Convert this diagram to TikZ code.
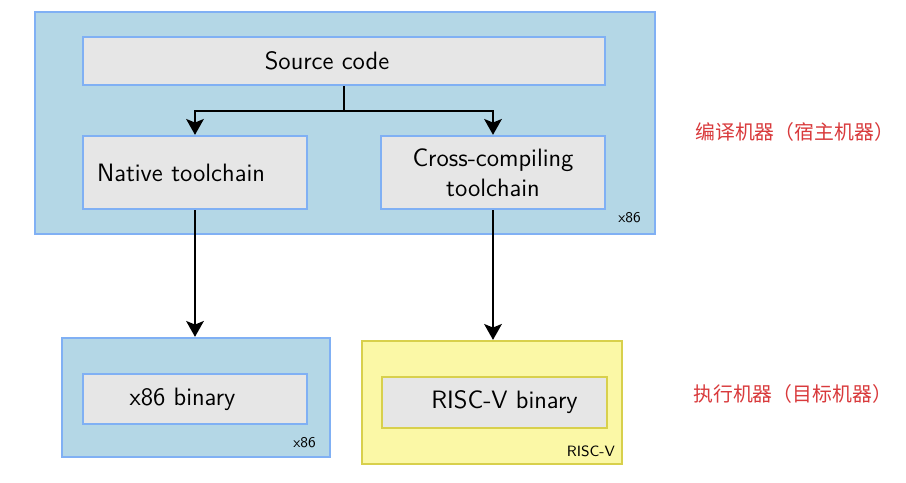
\documentclass[tikz,border=0pt]{standalone}
\usepackage{fontspec}
\newfontfamily\cjk{Noto Sans CJK SC}
\usetikzlibrary{arrows.meta,positioning}
\definecolor{hostfill}{HTML}{B4D7E6}
\definecolor{hostline}{HTML}{80B0F4}
\definecolor{boxfill}{HTML}{E6E6E6}
\definecolor{rvfill}{HTML}{FBF8A6}
\definecolor{rvline}{HTML}{D8D04C}
\definecolor{notered}{HTML}{D93A3C}
\newcommand{\padr}[1]{\rule{#1}{0pt}}
\tikzset{
  machine/.style={draw=hostline, fill=hostfill, line width=1.3pt, inner sep=0pt},
  item/.style={draw=hostline, fill=boxfill, line width=1.3pt, inner sep=0pt,
    font=\sffamily\fontsize{14.3}{17}\selectfont},
  tag/.style={font=\sffamily\fontsize{8.5}{10}\selectfont, inner sep=0pt},
  flow/.style={line width=1.4pt, -{Stealth[length=9pt,width=10pt,inset=2pt]}},
  note/.style={text=notered, font=\cjk\fontsize{11.3}{13}\selectfont, inner sep=0pt, anchor=west}
}
\begin{document}
\begin{tikzpicture}[x=0.02cm, y=-0.02cm]
\useasboundingbox[fill=white] (0,0) rectangle (906,483);

% Host machine
\node[machine, minimum width=12.4cm, minimum height=4.44cm] (host) at (345,123) {};
\node[item, minimum width=10.44cm, minimum height=0.96cm] (src) at (344,61) {Source code\padr{0.68cm}};
\node[item, minimum width=4.48cm, minimum height=1.46cm, text width=3.92cm,
  inner xsep=0.28cm, align=left] (native) at (195,172.5) {Native toolchain};
\node[item, minimum width=4.48cm, minimum height=1.46cm, align=center] (cross) at (493,172.5)
  {Cross-compiling\\toolchain};
\node[tag, anchor=south east] (hosttag) at ([shift={(-15,-12)}]host.south east) {x86};

% Target machines
\node[machine, minimum width=5.36cm, minimum height=2.38cm] (x86m) at (196,397.5) {};
\node[item, minimum width=4.48cm, minimum height=1.0cm] (x86bin) at (195,399) {x86 binary\padr{0.5cm}};
\node[tag, anchor=south east] (x86tag) at ([shift={(-15,-10)}]x86m.south east) {x86};

\node[machine, draw=rvline, fill=rvfill, minimum width=5.2cm, minimum height=2.46cm] (rvm) at (492,402.5) {};
\node[item, draw=rvline, minimum width=4.5cm, minimum height=1.02cm] (rvbin) at (494.5,402.5) {\padr{0.4cm}RISC-V binary};
\node[tag, anchor=south east] (rvtag) at ([shift={(-8,-8)}]rvm.south east) {RISC-V};

% Arrows
\draw[flow] (src.south) -- ++(0,25) -| (native.north);
\draw[flow] (src.south) -- ++(0,25) -| (cross.north);
\draw[flow] (native.south) -- (native.south |- x86m.north);
\draw[flow] (cross.south) -- (cross.south |- rvm.north);

% Side notes
\node[note] (hostnote) at (695,132) {编译机器（宿主机器）};
\node[note] (targetnote) at (693,394) {执行机器（目标机器）};
\end{tikzpicture}
\end{document}
